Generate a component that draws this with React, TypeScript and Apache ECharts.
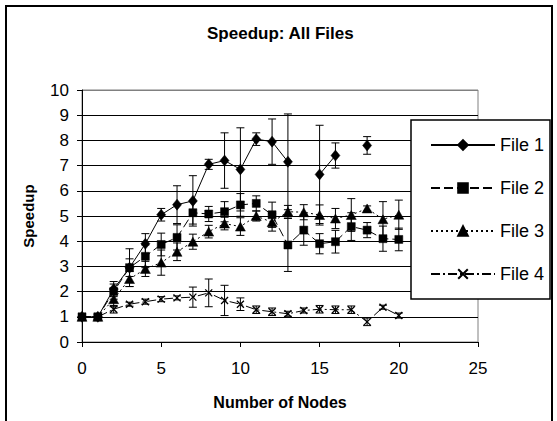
import React, { useEffect, useRef } from "react";
import * as echarts from "echarts";

const nodes = [0, 1, 2, 3, 4, 5, 6, 7, 8, 9, 10, 11, 12, 13, 14, 15, 16, 17, 18, 19, 20];
const seriesNames = ["File 1", "File 2", "File 3", "File 4"];

const file1 = [1.0, 1.0, 2.1, 2.95, 3.9, 5.05, 5.45, 5.6, 7.05, 7.2, 6.85, 8.05, 7.95, 7.15, null, 6.65, 7.4, null, 7.8, null, null];
const file1Err = [0.05, 0.05, 0.3, 0.75, 0.4, 0.25, 0.75, 1.0, 0.2, 1.1, 1.65, 0.25, 0.9, 1.9, null, 1.95, 0.5, null, 0.35, null, null];

const file2 = [1.0, 1.0, 2.0, 2.95, 3.4, 3.87, 4.15, 5.13, 5.08, 5.17, 5.44, 5.5, 5.05, 3.85, 4.44, 3.9, 3.98, 4.58, 4.44, 4.1, 4.07];
const file2Err = [0.08, 0.1, 0.3, 0.35, 0.45, 0.45, 0.5, 0.45, 0.3, 0.4, 0.45, 0.3, 0.5, 1.05, 0.6, 0.4, 0.45, 0.55, 0.3, 0.5, 0.45];

const file3 = [1.0, 1.0, 1.7, 2.5, 2.9, 3.15, 3.58, 3.98, 4.38, 4.7, 4.58, 5.0, 4.75, 5.17, 5.15, 5.04, 4.9, 5.04, 5.3, 4.87, 5.05];
const file3Err = [0.05, 0.1, 0.3, 0.3, 0.3, 0.5, 0.35, 0.3, 0.25, 0.25, 0.35, 0.2, 0.35, 0.25, 0.3, 0.4, 0.4, 0.65, 0.1, 0.7, 0.58];

const file4 = [1.0, 1.0, 1.3, 1.5, 1.6, 1.7, 1.75, 1.78, 1.95, 1.65, 1.5, 1.28, 1.2, 1.12, 1.25, 1.3, 1.28, 1.28, 0.8, 1.38, 1.05];
const file4Err = [0.05, 0.1, 0.15, 0.08, 0.1, 0.1, 0.08, 0.4, 0.55, 0.6, 0.25, 0.15, 0.15, 0.1, 0.1, 0.15, 0.15, 0.15, 0.15, 0.08, 0.1];

const xTicks = { min: 0, max: 25, interval: 5 };
const yTicks = { min: 0, max: 10, interval: 1 };

const FONT = "Liberation Sans, Arial, sans-serif";

function pairs(vals: (number | null)[]) {
  return nodes.map((n, i) => [n, vals[i]]);
}
function errTriples(vals: (number | null)[], errs: (number | null)[]) {
  const out: number[][] = [];
  nodes.forEach((n, i) => {
    const v = vals[i];
    const e = errs[i];
    if (v !== null && e !== null) out.push([n, v, e]);
  });
  return out;
}

const errRender = (params: any, api: any) => {
  const x = api.value(0);
  const y = api.value(1);
  const e = api.value(2);
  const top = api.coord([x, y + e]);
  const bot = api.coord([x, y - e]);
  const w = 4;
  const st = { stroke: "#000", lineWidth: 1 };
  return {
    type: "group",
    children: [
      { type: "line", shape: { x1: top[0], y1: top[1], x2: bot[0], y2: bot[1] }, style: st },
      { type: "line", shape: { x1: top[0] - w, y1: top[1], x2: top[0] + w, y2: top[1] }, style: st },
      { type: "line", shape: { x1: bot[0] - w, y1: bot[1], x2: bot[0] + w, y2: bot[1] }, style: st },
    ],
  };
};

export default function App() {
  const ref = useRef<HTMLDivElement>(null);
  useEffect(() => {
    if (!ref.current) return;
    const chart = echarts.init(ref.current, undefined, { renderer: "svg" });
    const allVals = [file1, file2, file3, file4];
    const allErrs = [file1Err, file2Err, file3Err, file4Err];
    const symbols = ["diamond", "rect", "triangle", "path://M0,0L10,10M10,0L0,10"];
    const symbolSizes: any[] = [[9, 11], 8, [10, 9], 7];
    const lineTypes: any[] = ["solid", [9, 4], [2, 3], [9, 3, 2, 3]];

    const lineSeries = seriesNames.map((name, i) => ({
      name,
      type: "line",
      data: pairs(allVals[i]),
      connectNulls: false,
      symbol: symbols[i],
      symbolSize: symbolSizes[i],
      showSymbol: true,
      color: "#000",
      lineStyle: { color: "#000", width: 1, type: lineTypes[i] },
      itemStyle: { color: "#000", borderColor: "#000", borderWidth: i === 3 ? 1.3 : 0.5 },
      z: 3,
    }));
    const errSeries = seriesNames.map((name, i) => ({
      name: name + " error",
      type: "custom",
      renderItem: errRender,
      data: errTriples(allVals[i], allErrs[i]),
      z: 2,
      silent: true,
    }));

    const gridColors = Array.from({ length: 11 }, (_, k) => (k === 10 ? "#808080" : "#000"));

    chart.setOption({
      animation: false,
      backgroundColor: "#fff",
      title: {
        text: "Speedup: All Files",
        left: 207,
        top: 25,
        padding: 0,
        textStyle: { fontFamily: FONT, fontWeight: "bold", fontSize: 17, color: "#000" },
      },
      grid: { left: 82, right: 79, top: 90, bottom: 79, show: true, borderColor: "#808080", borderWidth: 1 },
      xAxis: {
        type: "value",
        min: xTicks.min,
        max: xTicks.max,
        interval: xTicks.interval,
        name: "Number of Nodes",
        nameLocation: "middle",
        nameGap: 52,
        nameTextStyle: { fontFamily: FONT, fontWeight: "bold", fontSize: 16, color: "#000" },
        axisLine: { show: true, lineStyle: { color: "#000", width: 1 } },
        axisTick: { show: true, length: 5, inside: false, lineStyle: { color: "#000" } },
        axisLabel: { margin: 18, fontSize: 17, color: "#000", fontFamily: FONT },
        splitLine: { show: false },
      },
      yAxis: {
        type: "value",
        min: yTicks.min,
        max: yTicks.max,
        interval: yTicks.interval,
        name: "Speedup",
        nameLocation: "middle",
        nameGap: 46,
        nameTextStyle: { fontFamily: FONT, fontWeight: "bold", fontSize: 15, color: "#000" },
        axisLine: { show: true, lineStyle: { color: "#000", width: 1 } },
        axisTick: { show: true, length: 5, inside: false, lineStyle: { color: "#000" } },
        axisLabel: { margin: 13, fontSize: 17, color: "#000", fontFamily: FONT },
        splitLine: { show: true, lineStyle: { color: gridColors, width: 1 } },
      },
      legend: {
        data: seriesNames,
        orient: "vertical",
        left: 411,
        top: 120,
        padding: [16, 6, 16, 19],
        itemWidth: 64,
        itemHeight: 12,
        itemGap: 25,
        borderColor: "#000",
        borderWidth: 1.5,
        borderRadius: 0,
        backgroundColor: "#fff",
        textStyle: { fontFamily: FONT, fontSize: 18, color: "#000", lineHeight: 18 },
        z: 10,
      },
      graphic: [
        {
          type: "rect",
          shape: { x: 6, y: 6, width: 546, height: 440 },
          style: { fill: "none", stroke: "#000", lineWidth: 2 },
          silent: true,
          z: 100,
        },
      ],
      series: [...errSeries, ...lineSeries],
    });
    return () => chart.dispose();
  }, []);
  return (
    <div
      ref={ref}
      style={{ position: "fixed", left: 0, top: 0, width: 557, height: 421, background: "#fff" }}
    />
  );
}
